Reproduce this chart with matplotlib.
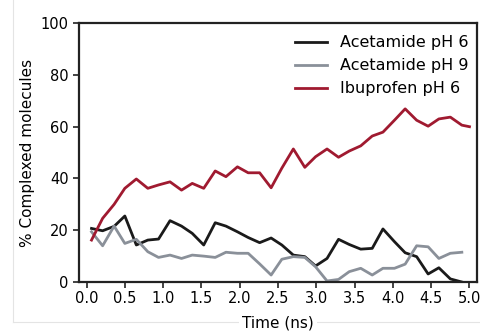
import matplotlib
matplotlib.use('Agg')
import matplotlib.pyplot as plt
from matplotlib.lines import Line2D

# time points (ns)
time = [0.065, 0.21, 0.36, 0.50, 0.65, 0.80, 0.94, 1.09, 1.24, 1.38,
        1.53, 1.68, 1.82, 1.97, 2.11, 2.26, 2.41, 2.55, 2.70, 2.85,
        2.99, 3.14, 3.29, 3.43, 3.58, 3.73, 3.87, 4.02, 4.16, 4.31,
        4.46, 4.60, 4.75, 4.90, 5.00]

acet_ph6 = [20.7, 19.8, 21.5, 25.5, 14.3, 16.2, 16.6, 23.7, 21.6, 18.8,
            14.3, 22.9, 21.6, 19.4, 17.2, 15.2, 17.0, 14.3, 10.4, 9.8,
            6.2, 9.1, 16.5, 14.5, 12.7, 13.0, 20.5, 15.6, 11.3, 9.8,
            3.1, 5.5, 1.2, 0.0]

acet_ph9 = [19.4, 14.0, 21.6, 14.9, 16.5, 11.7, 9.5, 10.4, 9.1, 10.4,
            10.0, 9.5, 11.5, 11.1, 11.1, 7.0, 2.7, 8.8, 9.8, 9.5,
            5.9, 0.4, 1.0, 4.0, 5.3, 2.7, 5.3, 5.3, 6.9, 14.0,
            13.6, 9.1, 11.1, 11.5]

ibu_ph6 = [16.2, 24.6, 30.0, 36.2, 39.8, 36.2, 37.5, 38.7, 35.5, 38.1,
           36.2, 42.9, 40.7, 44.5, 42.2, 42.2, 36.4, 44.0, 51.4, 44.3,
           48.4, 51.4, 48.2, 50.6, 52.6, 56.4, 57.9, 62.5, 66.9, 62.5,
           60.2, 63.0, 63.7, 60.6, 60.0]

fig = plt.figure(figsize=(4.81, 3.31), dpi=100)
ax = fig.add_axes([0.164, 0.148, 0.828, 0.782])

ax.plot(time[:len(acet_ph6)], acet_ph6, color='#1a1a1a', lw=2, label='Acetamide pH 6')
ax.plot(time[:len(acet_ph9)], acet_ph9, color='#8a9099', lw=2, label='Acetamide pH 9')
ax.plot(time, ibu_ph6, color='#a01a30', lw=2, label='Ibuprofen pH 6')

ax.set_xlim(-0.1, 5.1)
ax.set_ylim(0, 100)
ax.set_xticks([0.0, 0.5, 1.0, 1.5, 2.0, 2.5, 3.0, 3.5, 4.0, 4.5, 5.0])
ax.set_yticks([0, 20, 40, 60, 80, 100])
ax.set_xticklabels(['0.0', '0.5', '1.0', '1.5', '2.0', '2.5', '3.0', '3.5', '4.0', '4.5', '5.0'])
ax.tick_params(labelsize=10.5, width=1.2, length=4, color='#222222')
ax.tick_params(axis='x', pad=2.5)
for s in ax.spines.values():
    s.set_linewidth(1.6)
    s.set_color('#222222')

ax.set_xlabel('Time (ns)', fontsize=11, labelpad=7,
              bbox=dict(facecolor='white', edgecolor='none', pad=2))
ax.set_ylabel('% Complexed molecules', fontsize=11, labelpad=4)

ax.legend(loc='upper right', bbox_to_anchor=(1.014, 1.008), frameon=False,
          fontsize=11.5, borderaxespad=0.5, labelspacing=0.5)

# faint frame around the figure
fig.add_artist(Line2D([0.027, 0.027], [1.0, 0.027], color='#e4e4e4', lw=0.8, zorder=0))
fig.add_artist(Line2D([0.027, 1.0], [0.027, 0.027], color='#e4e4e4', lw=0.8, zorder=0))

fig.savefig('out.png', dpi=100)
